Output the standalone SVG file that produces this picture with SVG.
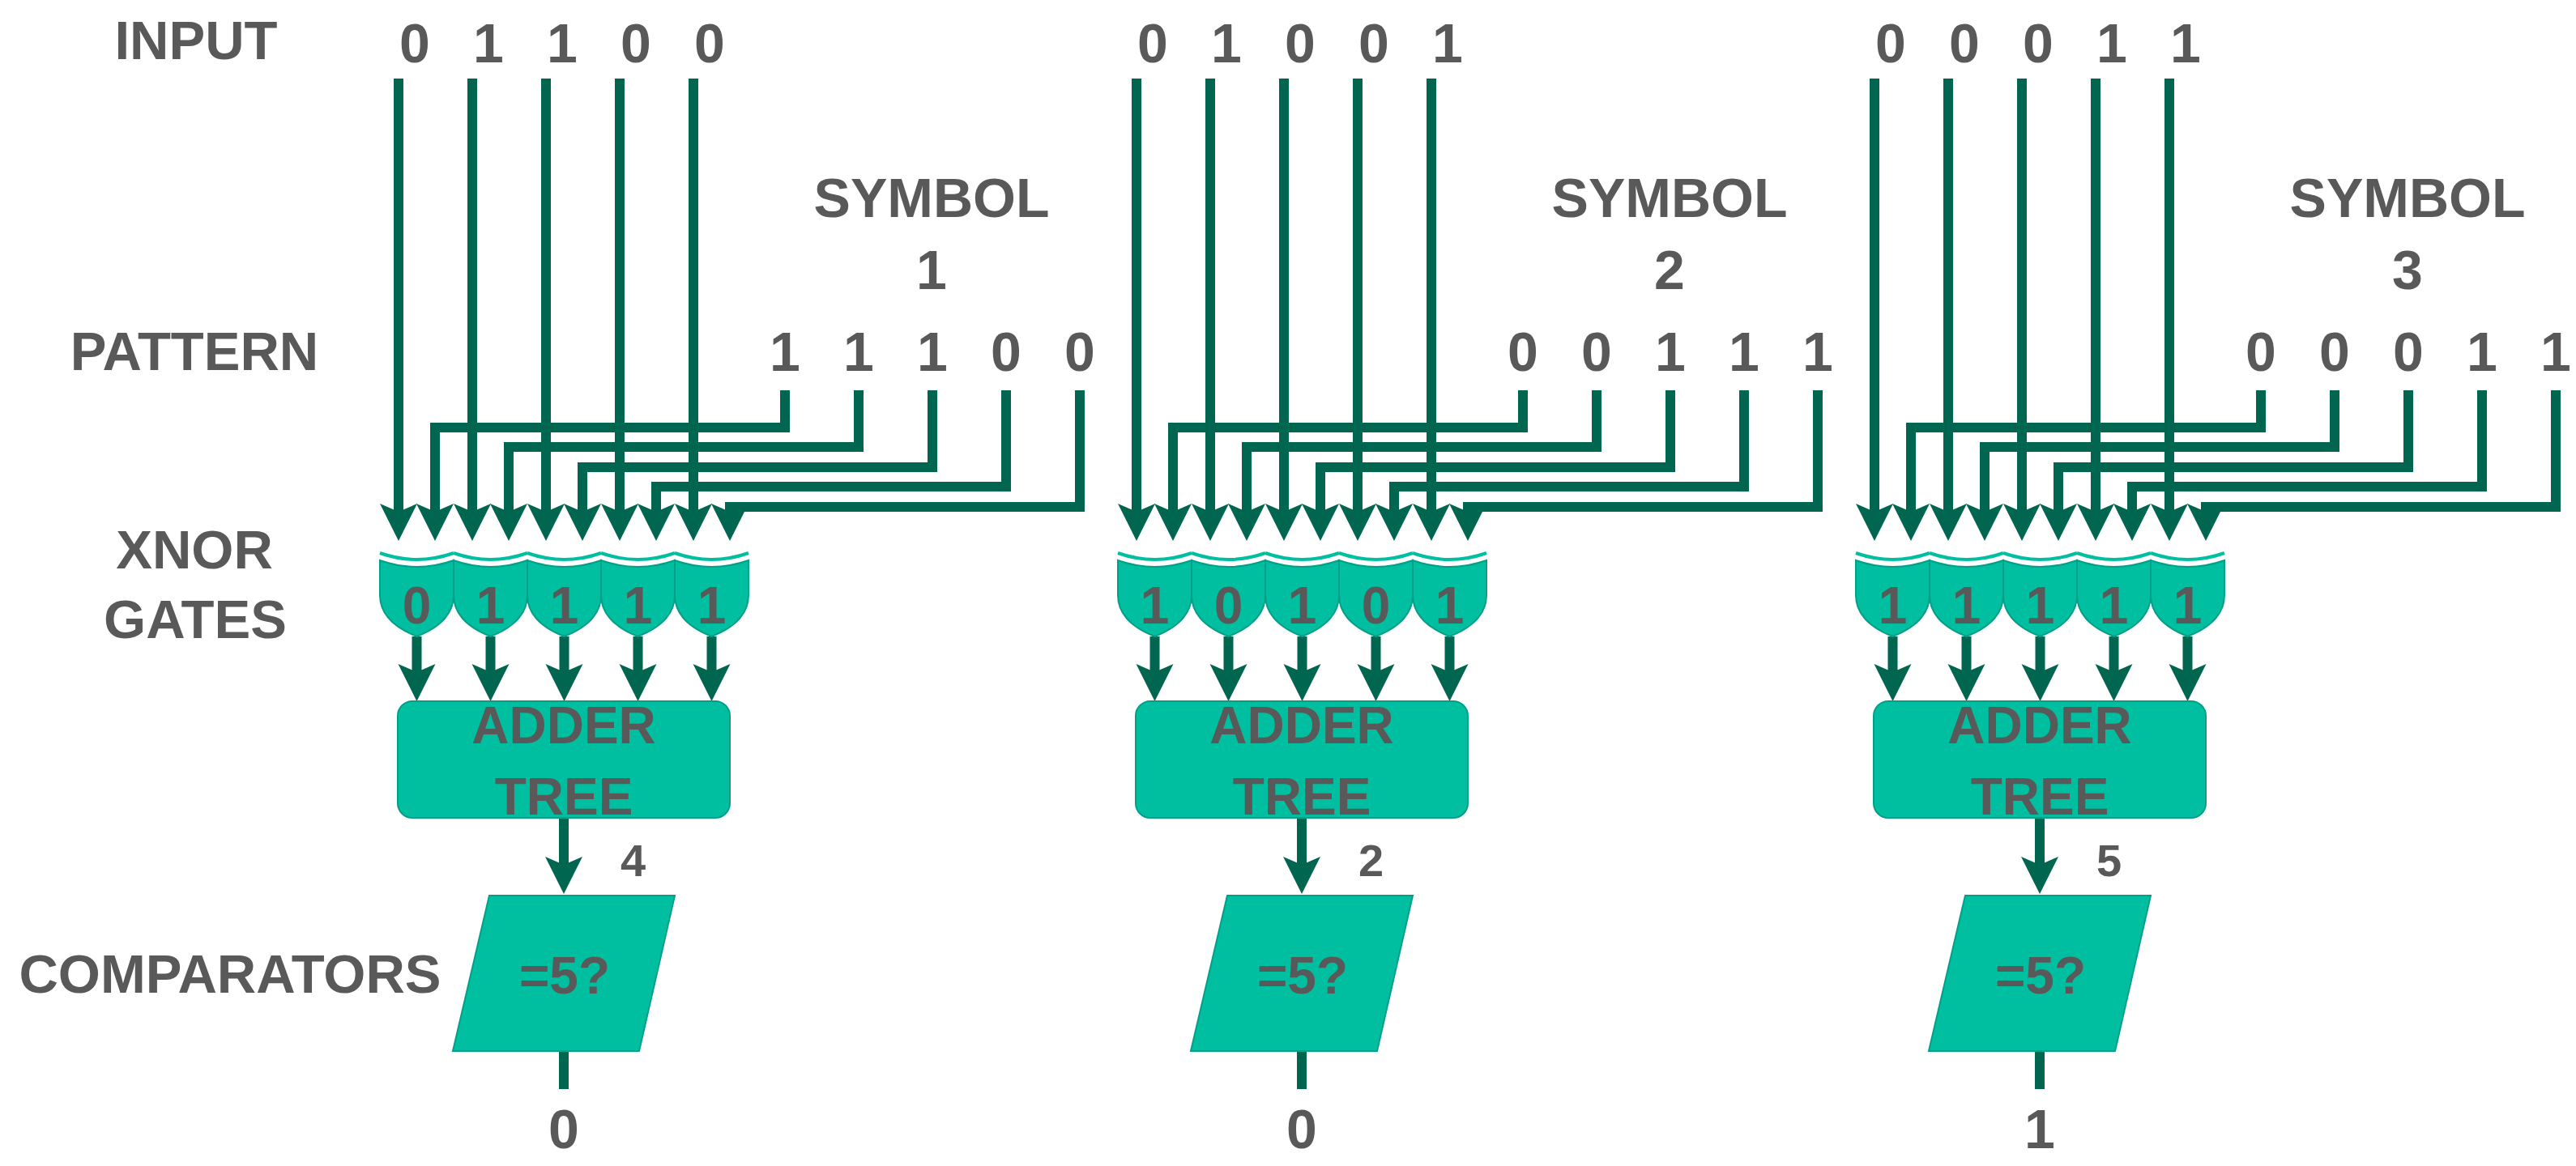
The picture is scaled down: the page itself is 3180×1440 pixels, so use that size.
<svg xmlns="http://www.w3.org/2000/svg" width="3180" height="1440" viewBox="0 0 3180 1440">
<style>
text{font-family:"Liberation Sans",Arial,sans-serif;font-weight:bold;fill:#595959;text-anchor:middle}
.lbl{font-size:67px}
.d{font-size:68px}
.g{font-size:64px}
.w{fill:none;stroke:#006650;stroke-width:12}
.wa{fill:none;stroke:#006650;stroke-width:12;marker-end:url(#ah)}
.gate{fill:#00BFA0;stroke:#00a088;stroke-width:2}
.arc{fill:none;stroke:#00BFA0;stroke-width:4}
.box{fill:#00BFA0;stroke:#00a088;stroke-width:2}
</style>
<defs>
<marker id="ah" markerUnits="userSpaceOnUse" markerWidth="48" markerHeight="48" refX="16" refY="23" orient="auto">
<path d="M0,0 L46,23 L0,46 L10,23 Z" fill="#006650"/>
</marker>
<g id="gate"><path class="arc" d="M0,683 Q45.5,699 91,683"/><path class="gate" d="M0,692 Q45.5,708 91,692 L91,735 Q91,768 45.5,786 Q0,768 0,735 Z"/></g>
</defs>
<g id="labels">
<text class="lbl" x="242" y="73">INPUT</text>
<text class="lbl" x="240" y="457">PATTERN</text>
<text class="lbl" x="240" y="702">XNOR</text>
<text class="lbl" x="241" y="788">GATES</text>
<text class="lbl" x="284" y="1226">COMPARATORS</text>
</g>
<g id="connectors">
<g id="conn1">
<path class="wa" d="M969,482 V528 H537 V638"/><path class="wa" d="M1060,482 V552 H628 V638"/><path class="wa" d="M1151,482 V577 H719 V638"/><path class="wa" d="M1242,482 V601 H810 V638"/><path class="wa" d="M1333,482 V626 H901 V638"/>
<path class="wa" d="M492,97 V638"/><path class="wa" d="M583,97 V638"/><path class="wa" d="M674,97 V638"/><path class="wa" d="M765,97 V638"/><path class="wa" d="M856,97 V638"/>
<path class="wa" d="M514.5,786 V836"/><path class="wa" d="M605.5,786 V836"/><path class="wa" d="M696.5,786 V836"/><path class="wa" d="M787.5,786 V836"/><path class="wa" d="M878.5,786 V836"/>
<path class="wa" d="M696,1010 V1074"/><path class="w" d="M696,1298 V1345"/>
</g>
<g id="conn2" transform="translate(911,0)">
<path class="wa" d="M969,482 V528 H537 V638"/><path class="wa" d="M1060,482 V552 H628 V638"/><path class="wa" d="M1151,482 V577 H719 V638"/><path class="wa" d="M1242,482 V601 H810 V638"/><path class="wa" d="M1333,482 V626 H901 V638"/>
<path class="wa" d="M492,97 V638"/><path class="wa" d="M583,97 V638"/><path class="wa" d="M674,97 V638"/><path class="wa" d="M765,97 V638"/><path class="wa" d="M856,97 V638"/>
<path class="wa" d="M514.5,786 V836"/><path class="wa" d="M605.5,786 V836"/><path class="wa" d="M696.5,786 V836"/><path class="wa" d="M787.5,786 V836"/><path class="wa" d="M878.5,786 V836"/>
<path class="wa" d="M696,1010 V1074"/><path class="w" d="M696,1298 V1345"/>
</g>
<g id="conn3" transform="translate(1822,0)">
<path class="wa" d="M969,482 V528 H537 V638"/><path class="wa" d="M1060,482 V552 H628 V638"/><path class="wa" d="M1151,482 V577 H719 V638"/><path class="wa" d="M1242,482 V601 H810 V638"/><path class="wa" d="M1333,482 V626 H901 V638"/>
<path class="wa" d="M492,97 V638"/><path class="wa" d="M583,97 V638"/><path class="wa" d="M674,97 V638"/><path class="wa" d="M765,97 V638"/><path class="wa" d="M856,97 V638"/>
<path class="wa" d="M514.5,786 V836"/><path class="wa" d="M605.5,786 V836"/><path class="wa" d="M696.5,786 V836"/><path class="wa" d="M787.5,786 V836"/><path class="wa" d="M878.5,786 V836"/>
<path class="wa" d="M696,1010 V1074"/><path class="w" d="M696,1298 V1345"/>
</g>
</g>
<g id="block1">
<g id="input1"><text class="d" x="512" y="77">0</text><text class="d" x="603" y="77">1</text><text class="d" x="694" y="77">1</text><text class="d" x="785" y="77">0</text><text class="d" x="876" y="77">0</text></g>
<g id="symbol1"><text class="d" x="1150" y="268">SYMBOL</text><text class="d" x="1150" y="357">1</text></g>
<g id="pattern1"><text class="d" x="969" y="458">1</text><text class="d" x="1060" y="458">1</text><text class="d" x="1151" y="458">1</text><text class="d" x="1242" y="458">0</text><text class="d" x="1333" y="458">0</text></g>
<g id="xnor1"><use href="#gate" x="469"/><use href="#gate" x="560"/><use href="#gate" x="651"/><use href="#gate" x="742"/><use href="#gate" x="833"/>
<text class="g" x="514.5" y="770">0</text><text class="g" x="605.5" y="770">1</text><text class="g" x="696.5" y="770">1</text><text class="g" x="787.5" y="770">1</text><text class="g" x="878.5" y="770">1</text></g>
<g id="adder1"><rect class="box" x="491" y="866" width="410" height="144" rx="18"/><text class="g" x="696" y="918">ADDER</text><text class="g" x="696" y="1006">TREE</text></g>
<text id="sum1" class="g" x="766" y="1082" style="text-anchor:start;font-size:56px">4</text>
<g id="comp1"><path class="box" d="M604,1106 L833,1106 L789,1298 L559,1298 Z"/><text class="g" x="697" y="1227">=5?</text></g>
<text id="out1" class="d" x="696" y="1418">0</text>
</g>
<g id="block2" transform="translate(911,0)">
<g id="input2"><text class="d" x="512" y="77">0</text><text class="d" x="603" y="77">1</text><text class="d" x="694" y="77">0</text><text class="d" x="785" y="77">0</text><text class="d" x="876" y="77">1</text></g>
<g id="symbol2"><text class="d" x="1150" y="268">SYMBOL</text><text class="d" x="1150" y="357">2</text></g>
<g id="pattern2"><text class="d" x="969" y="458">0</text><text class="d" x="1060" y="458">0</text><text class="d" x="1151" y="458">1</text><text class="d" x="1242" y="458">1</text><text class="d" x="1333" y="458">1</text></g>
<g id="xnor2"><use href="#gate" x="469"/><use href="#gate" x="560"/><use href="#gate" x="651"/><use href="#gate" x="742"/><use href="#gate" x="833"/>
<text class="g" x="514.5" y="770">1</text><text class="g" x="605.5" y="770">0</text><text class="g" x="696.5" y="770">1</text><text class="g" x="787.5" y="770">0</text><text class="g" x="878.5" y="770">1</text></g>
<g id="adder2"><rect class="box" x="491" y="866" width="410" height="144" rx="18"/><text class="g" x="696" y="918">ADDER</text><text class="g" x="696" y="1006">TREE</text></g>
<text id="sum2" class="g" x="766" y="1082" style="text-anchor:start;font-size:56px">2</text>
<g id="comp2"><path class="box" d="M604,1106 L833,1106 L789,1298 L559,1298 Z"/><text class="g" x="697" y="1227">=5?</text></g>
<text id="out2" class="d" x="696" y="1418">0</text>
</g>
<g id="block3" transform="translate(1822,0)">
<g id="input3"><text class="d" x="512" y="77">0</text><text class="d" x="603" y="77">0</text><text class="d" x="694" y="77">0</text><text class="d" x="785" y="77">1</text><text class="d" x="876" y="77">1</text></g>
<g id="symbol3"><text class="d" x="1150" y="268">SYMBOL</text><text class="d" x="1150" y="357">3</text></g>
<g id="pattern3"><text class="d" x="969" y="458">0</text><text class="d" x="1060" y="458">0</text><text class="d" x="1151" y="458">0</text><text class="d" x="1242" y="458">1</text><text class="d" x="1333" y="458">1</text></g>
<g id="xnor3"><use href="#gate" x="469"/><use href="#gate" x="560"/><use href="#gate" x="651"/><use href="#gate" x="742"/><use href="#gate" x="833"/>
<text class="g" x="514.5" y="770">1</text><text class="g" x="605.5" y="770">1</text><text class="g" x="696.5" y="770">1</text><text class="g" x="787.5" y="770">1</text><text class="g" x="878.5" y="770">1</text></g>
<g id="adder3"><rect class="box" x="491" y="866" width="410" height="144" rx="18"/><text class="g" x="696" y="918">ADDER</text><text class="g" x="696" y="1006">TREE</text></g>
<text id="sum3" class="g" x="766" y="1082" style="text-anchor:start;font-size:56px">5</text>
<g id="comp3"><path class="box" d="M604,1106 L833,1106 L789,1298 L559,1298 Z"/><text class="g" x="697" y="1227">=5?</text></g>
<text id="out3" class="d" x="696" y="1418">1</text>
</g>
</svg>
